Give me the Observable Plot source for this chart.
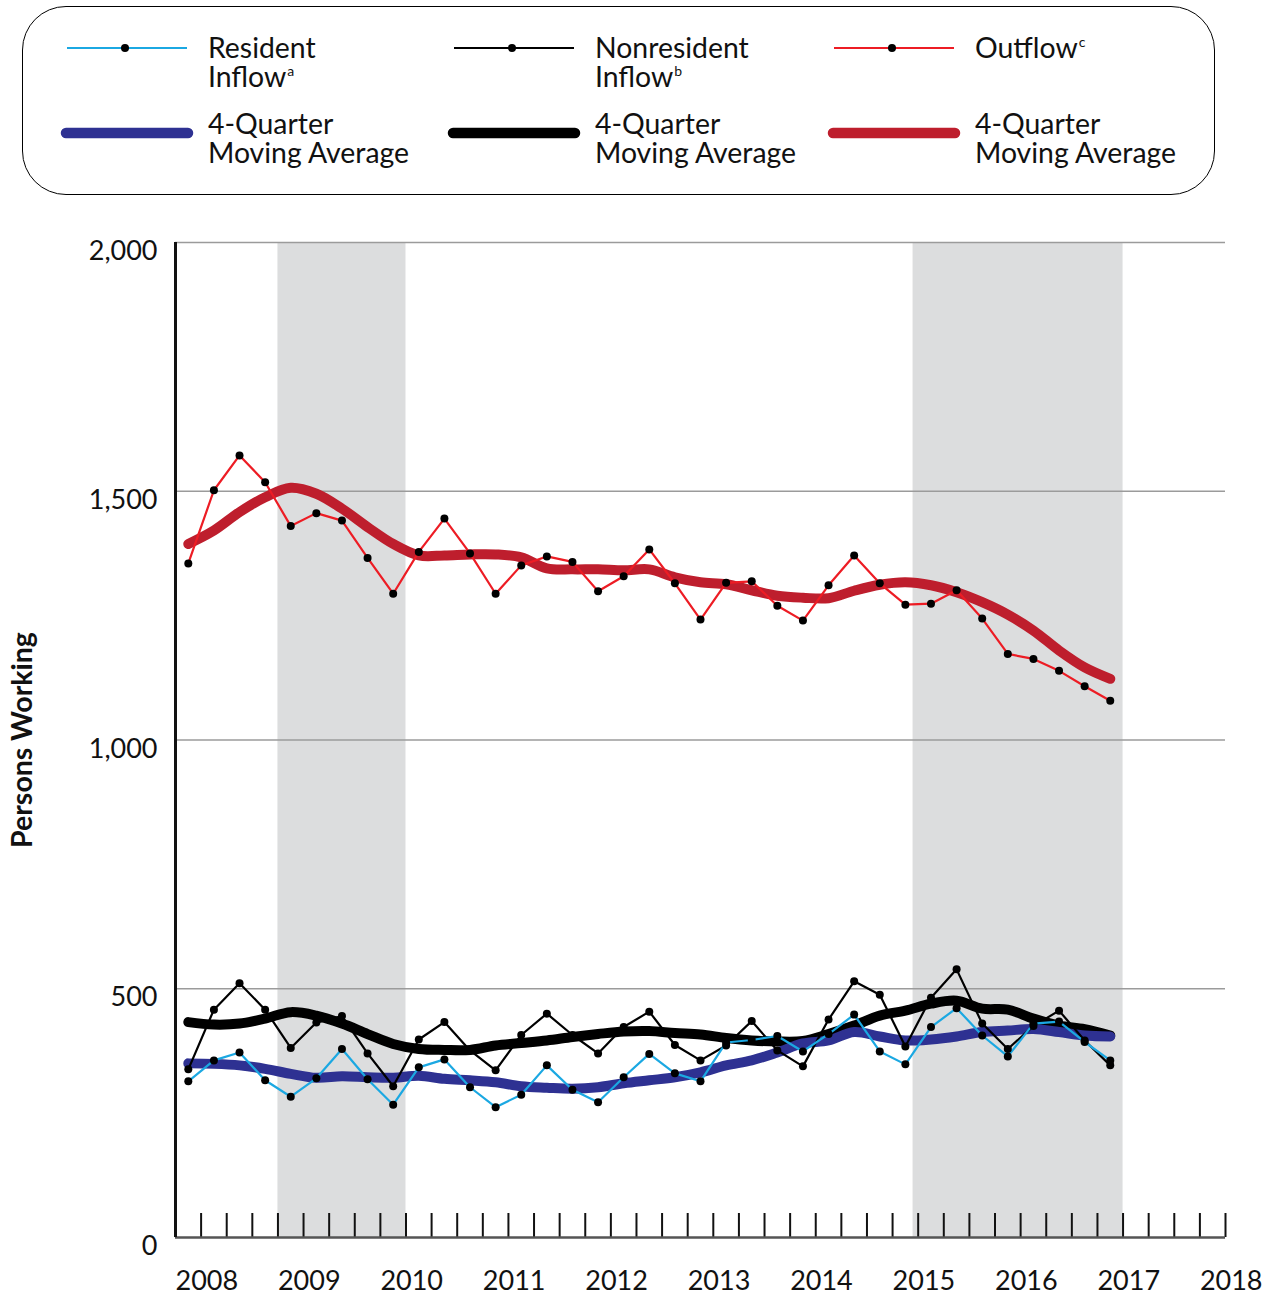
<!DOCTYPE html>
<html><head><meta charset="utf-8">
<script src="https://cdn.jsdelivr.net/npm/d3@7"></script>
<script src="https://cdn.jsdelivr.net/npm/@observablehq/plot@0.6"></script>
<style>
body{margin:0;background:#fff;font-family:Lato,"Open Sans",sans-serif;}
#wrap{position:relative;width:1268px;height:1297px;overflow:hidden;}
#box{position:absolute;left:22px;top:6px;width:1193px;height:189px;box-sizing:border-box;border:1.6px solid #000;border-radius:44px;}
.lt{position:absolute;font-size:28.4px;line-height:29px;color:#111;white-space:nowrap;}
.lt sup{font-size:14px;vertical-align:0;position:relative;top:-11px;margin-left:1px;}
.sw{position:absolute;overflow:visible;}
#chart{position:absolute;left:0;top:200px;}
</style></head>
<body><div id="wrap"><div id="box"></div><div id="legend"></div><div id="chart"></div></div>
<script>
// ---- data ----
const quarters = ["2008Q1","2008Q2","2008Q3","2008Q4","2009Q1","2009Q2","2009Q3","2009Q4",
  "2010Q1","2010Q2","2010Q3","2010Q4","2011Q1","2011Q2","2011Q3","2011Q4",
  "2012Q1","2012Q2","2012Q3","2012Q4","2013Q1","2013Q2","2013Q3","2013Q4",
  "2014Q1","2014Q2","2014Q3","2014Q4","2015Q1","2015Q2","2015Q3","2015Q4",
  "2016Q1","2016Q2","2016Q3","2016Q4","2017Q1"];
const residentInflow = [314,356,372,316,283,320,379,318,267,342,358,302,262,287,346,297,272,322,369,330,314,392,397,405,374,409,448,374,348,423,461,406,364,430,434,393,356];
const residentAvg = [350,349,346,339,329,321,324,322,321,325,319,316,312,304,301,299,302,310,316,322,332,346,356,372,390,396,413,404,396,398,404,413,416,419,413,406,404];
const nonresidentInflow = [338,458,511,458,381,432,445,370,304,398,433,376,336,407,450,407,370,423,454,387,356,386,435,376,344,438,515,488,384,482,539,430,379,425,456,396,346];
const nonresidentAvg = [433,428,430,440,453,446,430,409,389,379,377,377,386,391,396,403,409,414,415,411,408,401,396,394,395,409,426,446,456,470,476,460,458,440,426,419,406];
const outflow = [1355,1502,1572,1518,1430,1456,1441,1366,1294,1378,1445,1375,1294,1351,1369,1358,1299,1329,1383,1315,1242,1316,1319,1270,1240,1311,1371,1315,1272,1274,1301,1244,1173,1163,1139,1108,1079];
const outflowAvg = [1394,1421,1458,1488,1507,1495,1465,1428,1394,1371,1371,1373,1373,1367,1345,1343,1343,1341,1343,1327,1317,1313,1301,1290,1286,1285,1300,1312,1317,1311,1297,1277,1252,1220,1180,1146,1123];
const yTicks = [0,500,1000,1500,2000];
const gridValues = [500,1000,1500,2000];
const yearLabels = [2008,2009,2010,2011,2012,2013,2014,2015,2016,2017,2018];
const shadeStart = [2009, 2015.2];
const shadeEnd = [2010.25, 2017.25];

// ---- colours ----
const C = {res:"#1ba8e2", resAvg:"#2e3192", non:"#000000", nonAvg:"#000000", out:"#ed1c24", outAvg:"#be1e2d"};

// ---- table ----
const qx = q => +q.slice(0,4) + (+q.slice(5) - 1)/4 + 0.125;
const rows = quarters.map((q,i)=>({t:qx(q), res:residentInflow[i], resAvg:residentAvg[i],
  non:nonresidentInflow[i], nonAvg:nonresidentAvg[i], out:outflow[i], outAvg:outflowAvg[i]}));
const shades = shadeStart.map((s,i)=>({start:s, end:shadeEnd[i]}));
const quarterTicks = d3.range(1,42).map(k => 2008 + k/4);

const thin = (key,color) => Plot.line(rows,{x:"t",y:key,stroke:color,strokeWidth:2.2});
const thick = (key,color) => Plot.line(rows,{x:"t",y:key,stroke:color,strokeWidth:10,curve:"catmull-rom",strokeLinecap:"round",strokeLinejoin:"round"});
const dots = key => Plot.dot(rows,{x:"t",y:key,r:4,fill:"#000",stroke:"none"});

const chart = Plot.plot({
  width:1268, height:1097, marginLeft:175, marginRight:43, marginTop:42, marginBottom:60,
  style:{fontFamily:"Lato, 'Open Sans', sans-serif", fontSize:"27px", color:"#111", background:"transparent"},
  x:{domain:[2008,2018.25], axis:null},
  y:{domain:[0,2000], axis:null},
  marks:[
    Plot.rect(shades,{x1:"start",x2:"end",fill:"#dcddde"}),
    Plot.ruleY(gridValues,{stroke:"#9b9b9b",strokeWidth:1.3}),
    Plot.ruleX(quarterTicks,{stroke:"#111",strokeWidth:2,insetTop:971}),
    Plot.ruleY([0],{stroke:"#555",strokeWidth:2.6}),
    Plot.ruleX([2008],{stroke:"#111",strokeWidth:3}),
    Plot.axisY({ticks:yTicks,tickSize:0,tickPadding:18,tickFormat:d3.format(","),fontSize:27,dy:9}),
    Plot.axisX({ticks:yearLabels,tickSize:0,tickPadding:33,textAnchor:"start",tickFormat:d=>String(d),fontSize:27}),
    Plot.text(["Persons Working"],{text:d=>d,frameAnchor:"left",textAnchor:"middle",rotate:-90,dx:-153,fontWeight:"bold",fontSize:28.5,fill:"#111"}),
    thick("nonAvg",C.nonAvg),
    thick("resAvg",C.resAvg),
    thick("outAvg",C.outAvg),
    thin("non",C.non),
    thin("res",C.res),
    thin("out",C.out),
    dots("non"), dots("res"), dots("out")
  ]
});
document.getElementById("chart").appendChild(chart);

// ---- legend ----
const legendItems = [
  {col:0,row:0,lines:["Resident","Inflow"],sup:"a",color:C.res,kind:"thin"},
  {col:1,row:0,lines:["Nonresident","Inflow"],sup:"b",color:C.non,kind:"thin"},
  {col:2,row:0,lines:["Outflow"],sup:"c",color:C.out,kind:"thin"},
  {col:0,row:1,lines:["4-Quarter","Moving Average"],sup:"",color:C.resAvg,kind:"thick"},
  {col:1,row:1,lines:["4-Quarter","Moving Average"],sup:"",color:C.nonAvg,kind:"thick"},
  {col:2,row:1,lines:["4-Quarter","Moving Average"],sup:"",color:C.outAvg,kind:"thick"}
];
const colSwatchX = [67,454,834], colTextX = [208,595,975];
const rowSwatchY = [48,133], rowTextTop = [33,109];
const leg = document.getElementById("legend");
legendItems.forEach(it=>{
  const sx = colSwatchX[it.col], sy = rowSwatchY[it.row];
  const svg = document.createElementNS("http://www.w3.org/2000/svg","svg");
  svg.setAttribute("class","sw");
  svg.setAttribute("width",134); svg.setAttribute("height",20);
  svg.style.left = (sx-7)+"px"; svg.style.top = (sy-10)+"px";
  if (it.kind==="thin") {
    svg.innerHTML = `<line x1="7" x2="127" y1="10" y2="10" stroke="${it.color}" stroke-width="2.2"/><circle cx="65" cy="10" r="4" fill="#000"/>`;
  } else {
    svg.innerHTML = `<line x1="6" x2="128" y1="10" y2="10" stroke="${it.color}" stroke-width="10.5" stroke-linecap="round"/>`;
  }
  leg.appendChild(svg);
  const d = document.createElement("div");
  d.className = "lt";
  d.style.left = colTextX[it.col]+"px"; d.style.top = rowTextTop[it.row]+"px";
  d.innerHTML = it.lines.map((l,i)=> i===it.lines.length-1 && it.sup ? `${l}<sup>${it.sup}</sup>` : l).join("<br>");
  leg.appendChild(d);
});
</script>
</body></html>
